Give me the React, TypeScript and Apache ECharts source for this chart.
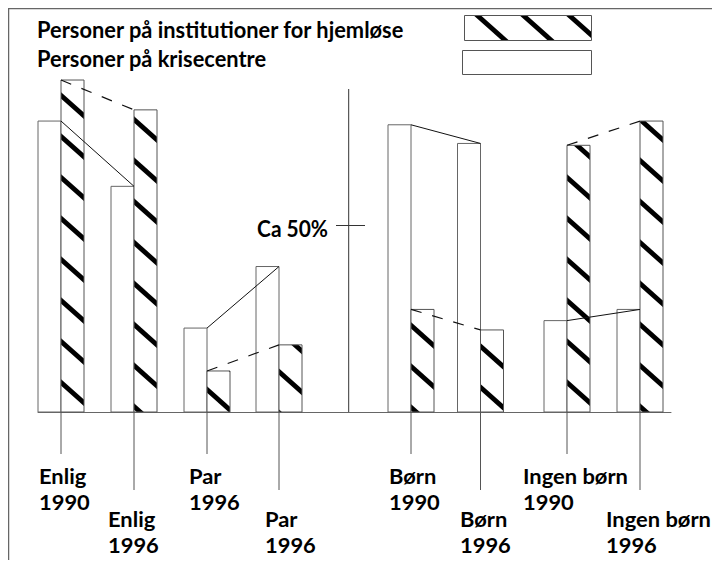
import React, { useEffect, useRef } from "react";
import * as echarts from "echarts";

// ---- data ----
const categories = ["Enlig", "Enlig", "Par", "Par", "Børn", "Børn", "Ingen børn", "Ingen børn"];
const years = ["1990", "1996", "1996", "1996", "1990", "1996", "1990", "1996"];
const krisecentre = [78, 60.5, 22.5, 39, 77, 72, 24.5, 27.5]; // white bars (%)
const institutioner = [89, 81, 11, 18, 27.5, 22, 71.5, 78]; // hatched bars (%)
const links = [[0, 1], [2, 3], [4, 5], [6, 7]];
const legendNames = ["Personer på institutioner for hjemløse", "Personer på krisecentre"];
const refLabel = "Ca 50%";
const refValue = 50;

// ---- layout ----
const groupPos = [23, 96, 169, 241, 373, 442.5, 529, 602];
const labelDx = [-22, -26, -18, -14, -22, -20.5, -44, -34];
const labelRow = [0, 1, 0, 1, 0, 1, 0, 1];
const dividerPos = 310.7;
const BAR_W = 23;
const FONT_FAMILY = 'Lato, "Open Sans", sans-serif';
const BIG_SIZE = 23;
const LABEL_SIZE = 21;
const FONT_WEIGHT = 700;
const LEGEND_TEXT_W = 368; // fitted widths in px
const LABEL_REF_W = 105; // width of "Ingen børn"
const REF_TEXT_W = 71;

function makeHatch(): HTMLCanvasElement {
  const W = 46, H = 41;
  const c = document.createElement("canvas");
  c.width = W;
  c.height = H;
  const ctx = c.getContext("2d")!;
  ctx.fillStyle = "#fff";
  ctx.fillRect(0, 0, W, H);
  ctx.strokeStyle = "#000";
  ctx.lineWidth = 4.8;
  for (let k = -1; k <= 1; k++) {
    ctx.beginPath();
    ctx.moveTo(k * W - W, -H);
    ctx.lineTo(k * W + 2 * W, 2 * H);
    ctx.stroke();
  }
  return c;
}

export default function App() {
  const ref = useRef<HTMLDivElement>(null);
  useEffect(() => {
    if (!ref.current) return;
    const chart = echarts.init(ref.current, undefined, { renderer: "svg" });
    const hatch = { image: makeHatch(), repeat: "repeat" as const };
    const mctx = document.createElement("canvas").getContext("2d")!;
    const fit = (text: string, size: number, target: number) => {
      mctx.font = `${FONT_WEIGHT} ${size}px ${FONT_FAMILY}`;
      const w = mctx.measureText(text).width;
      return w > 0 ? target / w : 1;
    };
    const sx = fit(legendNames[0], BIG_SIZE, LEGEND_TEXT_W);
    const labelSx = fit(categories[6], LABEL_SIZE, LABEL_REF_W);
    const refSx = fit(refLabel, BIG_SIZE, REF_TEXT_W);
    const textStyle = (size: number, extra: any) => ({
      fontFamily: FONT_FAMILY,
      fontSize: size,
      fontWeight: FONT_WEIGHT,
      fill: "#000",
      ...extra,
    });

    const barData = groupPos.map((p, i) => [p, krisecentre[i], institutioner[i], i]);
    const solidLinks = links.map(([a, b]) => [groupPos[a], krisecentre[a], groupPos[b], krisecentre[b]]);
    const dashLinks = links.map(([a, b]) => [groupPos[a], institutioner[a], groupPos[b], institutioner[b]]);

    const option: any = {
      animation: false,
      grid: { left: 38, right: 49, top: 39, bottom: 156 },
      xAxis: {
        type: "value",
        min: 0,
        max: 633,
        splitLine: { show: false },
        axisTick: { show: false },
        axisLabel: { show: false },
        axisLine: { show: true, onZero: false, lineStyle: { color: "#666", width: 1 } },
      },
      yAxis: {
        type: "value",
        min: 0,
        max: 100,
        show: false,
        splitLine: { show: false },
      },
      graphic: [
        { type: "line", shape: { x1: 8, y1: 8.5, x2: 720, y2: 8.5 }, style: { stroke: "#666", lineWidth: 1.5 } },
        { type: "line", shape: { x1: 8.5, y1: 8, x2: 8.5, y2: 568 }, style: { stroke: "#666", lineWidth: 1.5 } },
        {
          type: "text", x: 37, y: 29, scaleX: sx,
          style: textStyle(BIG_SIZE, { text: legendNames[0], align: "left", verticalAlign: "middle" }),
        },
        {
          type: "text", x: 37, y: 58, scaleX: sx,
          style: textStyle(BIG_SIZE, { text: legendNames[1], align: "left", verticalAlign: "middle" }),
        },
        {
          type: "rect", shape: { x: 464.5, y: 15.5, width: 127, height: 25 },
          style: { fill: hatch, stroke: "#555", lineWidth: 1 },
        },
        {
          type: "rect", shape: { x: 462.5, y: 50.5, width: 129, height: 24 },
          style: { fill: "#fff", stroke: "#555", lineWidth: 1 },
        },
      ],
      series: [
        {
          type: "custom",
          data: barData,
          encode: { x: 0, y: [1, 2] },
          clip: false,
          renderItem: (params: any, api: any) => {
            const i = params.dataIndex;
            const pos = api.value(0);
            const base = api.coord([pos, 0]);
            const wTop = api.coord([pos, api.value(1)]);
            const hTop = api.coord([pos, api.value(2)]);
            const bw = api.size([BAR_W, 0])[0];
            const row = labelRow[i];
            const dropEnd = base[1] + (row === 0 ? 42 : 78);
            const textY = base[1] + (row === 0 ? 77 : 120);
            return {
              type: "group",
              children: [
                {
                  type: "rect",
                  shape: { x: base[0] - bw, y: wTop[1], width: bw, height: base[1] - wTop[1] },
                  style: { fill: "#fff", stroke: "#666", lineWidth: 1 },
                },
                {
                  type: "rect",
                  shape: { x: base[0], y: hTop[1], width: bw, height: base[1] - hTop[1] },
                  style: { fill: hatch, stroke: "#555", lineWidth: 1 },
                },
                {
                  type: "line",
                  shape: { x1: base[0], y1: base[1], x2: base[0], y2: dropEnd },
                  style: { stroke: "#555", lineWidth: 1 },
                },
                {
                  type: "text",
                  x: base[0] + labelDx[i],
                  y: textY,
                  scaleX: labelSx,
                  style: textStyle(LABEL_SIZE, {
                    text: categories[i] + "\n" + years[i],
                    align: "left",
                    verticalAlign: "middle",
                    lineHeight: 26,
                  }),
                },
              ],
            };
          },
        },
        {
          type: "custom",
          data: solidLinks,
          encode: { x: [0, 2], y: [1, 3] },
          clip: false,
          renderItem: (params: any, api: any) => {
            const a = api.coord([api.value(0), api.value(1)]);
            const b = api.coord([api.value(2), api.value(3)]);
            return {
              type: "line",
              shape: { x1: a[0], y1: a[1], x2: b[0], y2: b[1] },
              style: { stroke: "#111", lineWidth: 1 },
            };
          },
        },
        {
          type: "custom",
          data: dashLinks,
          encode: { x: [0, 2], y: [1, 3] },
          clip: false,
          renderItem: (params: any, api: any) => {
            const a = api.coord([api.value(0), api.value(1)]);
            const b = api.coord([api.value(2), api.value(3)]);
            return {
              type: "line",
              shape: { x1: a[0], y1: a[1], x2: b[0], y2: b[1] },
              style: { stroke: "#111", lineWidth: 1.2, lineDash: [11, 11] },
            };
          },
        },
        {
          type: "custom",
          data: [[dividerPos, refValue]],
          encode: { x: 0, y: 1 },
          clip: false,
          renderItem: (params: any, api: any) => {
            const base = api.coord([api.value(0), 0]);
            const mid = api.coord([api.value(0), api.value(1)]);
            const top = base[1] - 323;
            return {
              type: "group",
              children: [
                {
                  type: "line",
                  shape: { x1: base[0], y1: top, x2: base[0], y2: base[1] },
                  style: { stroke: "#333", lineWidth: 1 },
                },
                {
                  type: "line",
                  shape: { x1: mid[0] - 12.7, y1: mid[1], x2: mid[0] + 16.3, y2: mid[1] },
                  style: { stroke: "#333", lineWidth: 1 },
                },
                {
                  type: "text",
                  x: mid[0] - 20.7,
                  y: mid[1] + 3,
                  scaleX: refSx,
                  style: textStyle(BIG_SIZE, { text: refLabel, align: "right", verticalAlign: "middle" }),
                },
              ],
            };
          },
        },
      ],
    };
    chart.setOption(option);
    return () => chart.dispose();
  }, []);
  return <div ref={ref} style={{ width: 720, height: 568, margin: -8 }} />;
}
